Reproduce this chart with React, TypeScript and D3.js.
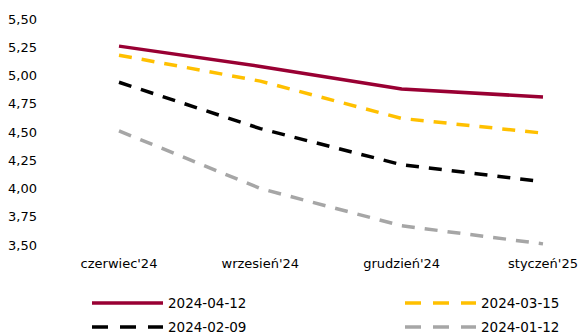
import React from 'react';
import * as d3 from 'd3';

const categories = ["czerwiec'24", "wrzesień'24", "grudzień'24", "styczeń'25"];
const s20240412 = [5.26, 5.08, 4.88, 4.81];
const s20240315 = [5.18, 4.95, 4.62, 4.49];
const s20240209 = [4.94, 4.53, 4.21, 4.06];
const s20240112 = [4.51, 4.0, 3.67, 3.51];
const yTicks = [3.5, 3.75, 4.0, 4.25, 4.5, 4.75, 5.0, 5.25, 5.5];

const series = [
  { name: '2024-04-12', values: s20240412, color: '#990033', dash: '' },
  { name: '2024-03-15', values: s20240315, color: '#FFC000', dash: '13,10' },
  { name: '2024-02-09', values: s20240209, color: '#000000', dash: '13,10' },
  { name: '2024-01-12', values: s20240112, color: '#A6A6A6', dash: '13,10' },
];

const W = 579;
const H = 334;
const font = "'DejaVu Sans', Verdana, sans-serif";

const App = () => {
  const x = d3.scalePoint<string>().domain(categories).range([119, 543]);
  const y = d3.scaleLinear().domain([3.5, 5.5]).range([245, 19]);

  const line = d3
    .line<number>()
    .x((_, i) => x(categories[i]) as number)
    .y((d) => y(d));

  const fmt = (v: number) => d3.format('.2f')(v).replace('.', ',');

  // legend slots: two columns, two rows
  const legendPos = [
    { x: 92, y: 303 },
    { x: 405, y: 303 },
    { x: 92, y: 327 },
    { x: 405, y: 327 },
  ];

  return (
    <div style={{ position: 'absolute', left: 0, top: 0 }}>
      <svg width={W} height={H} style={{ display: 'block', background: '#fff' }}>
        <g fontFamily={font} fontSize={13} fill="#000">
          {yTicks.map((t) => (
            <text key={t} x={37} y={y(t)} dy="0.35em" textAnchor="end">
              {fmt(t)}
            </text>
          ))}
          {categories.map((c) => (
            <text key={c} x={x(c)} y={263} dy="0.35em" textAnchor="middle">
              {c}
            </text>
          ))}
        </g>
        {series
          .slice()
          .reverse()
          .map((s) => (
            <path
              key={s.name}
              d={line(s.values) || ''}
              fill="none"
              stroke={s.color}
              strokeWidth={3.5}
              strokeDasharray={s.dash || undefined}
              strokeLinejoin="round"
            />
          ))}
        <g fontFamily={font} fontSize={13.5}>
          {series.map((s, i) => {
            const p = legendPos[i];
            return (
              <g key={s.name} transform={`translate(${p.x},${p.y})`}>
                <line
                  x1={0}
                  x2={71}
                  y1={0}
                  y2={0}
                  stroke={s.color}
                  strokeWidth={3.5}
                  strokeDasharray={s.dash ? '16,12' : undefined}
                />
                <text x={76} y={0} dy="0.35em" fill="#000">
                  {s.name}
                </text>
              </g>
            );
          })}
        </g>
      </svg>
    </div>
  );
};

export default App;
